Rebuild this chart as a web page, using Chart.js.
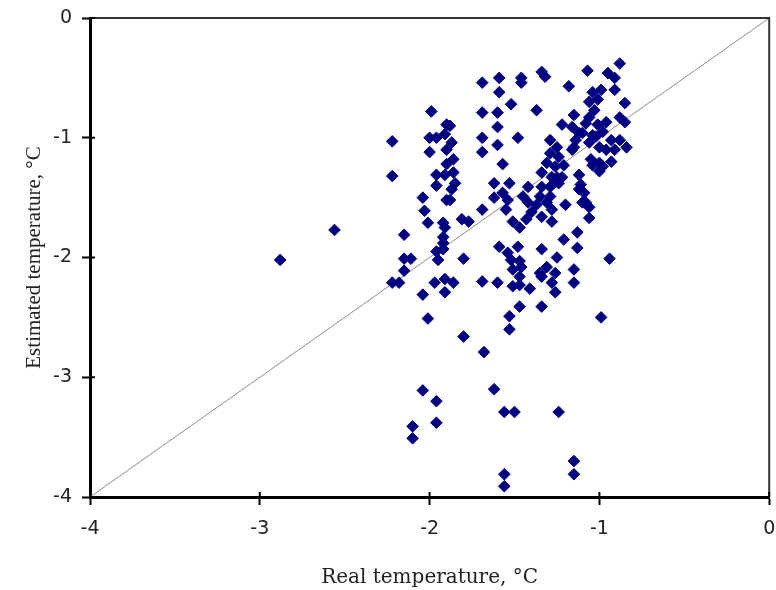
<!DOCTYPE html>
<html>
<head>
<meta charset="utf-8">
<script src="https://cdn.jsdelivr.net/npm/chart.js@4/dist/chart.umd.min.js"></script>
<style>
  html, body { margin:0; padding:0; background:#fff; }
  #wrap { width:776px; height:590px; }
</style>
</head>
<body>
<div id="wrap"><canvas id="chart" width="776" height="590"></canvas></div>
<script>
// scatter data: real vs estimated temperature (°C)
const realTemp = [
  -2.88,-2.56,-2.22,-2.22,-2.22,-2.18,-2.15,-2.15,-2.11,-2.15,-2.10,-2.10,-2.04,-2.03,-2.01,-2.04,-2.01,-2.04,-1.96,-1.96,
  -1.99,-2.00,-1.96,-1.91,-2.00,-1.90,-1.96,-1.91,-1.96,-1.90,-1.92,-1.92,-1.96,-1.95,-1.92,-1.97,-1.91,-1.90,
  -1.88,-1.87,-1.90,-1.86,-1.86,-1.85,-1.87,-1.88,-1.81,-1.77,-1.91,-1.92,-1.80,-1.86,-1.91,-1.80,
  -1.69,-1.69,-1.69,-1.69,-1.59,-1.59,-1.60,-1.60,-1.60,-1.57,-1.52,-1.69,-1.69,-1.60,-1.68,-1.62,-1.62,-1.57,-1.53,-1.62,
  -1.54,-1.55,-1.51,-1.47,-1.43,-1.40,-1.37,-1.59,-1.54,-1.52,-1.48,-1.47,-1.51,-1.46,-1.47,-1.47,-1.41,-1.51,-1.47,-1.53,
  -1.53,-1.56,-1.50,-1.56,-1.56,-1.46,-1.46,-1.48,-1.42,-1.42,-1.45,
  -1.34,-1.32,-1.37,-1.18,-1.22,-1.15,-1.29,-1.25,-1.29,-1.24,-1.31,-1.26,-1.21,-1.34,-1.28,-1.22,-1.29,-1.24,-1.16,-1.14,
  -1.16,-1.12,-1.34,-1.25,-1.29,-1.28,-1.34,-1.28,-1.20,-1.31,-1.35,-1.12,-1.11,-1.09,-1.10,-1.06,-1.06,-1.00,-1.21,-1.13,
  -1.13,-0.94,-1.25,-1.31,-1.26,-1.34,-1.28,-1.26,-1.15,-1.15,-1.34,-1.35,-1.34,-0.99,-1.24,-1.15,-1.15,
  -1.07,-0.95,-0.88,-0.91,-1.04,-0.99,-1.06,-1.01,-1.03,-0.91,-0.85,-0.88,-0.85,-1.06,-1.01,-0.96,-1.10,-1.04,-0.98,-0.93,
  -0.88,-0.91,-0.93,-1.05,-1.00,-1.15,-1.08,-1.02,-1.06,-1.00,-1.04,-0.98,-0.84,-0.96,-1.12,-1.08
];
const estTemp = [
  -2.02,-1.77,-1.03,-1.32,-2.21,-2.21,-1.81,-2.01,-2.01,-2.11,-3.41,-3.51,-1.50,-1.61,-1.71,-2.31,-2.51,-3.11,-3.20,-3.38,
  -0.78,-1.00,-1.00,-0.97,-1.12,-1.10,-1.31,-1.31,-1.40,-1.52,-1.71,-1.83,-1.95,-2.02,-1.88,-2.21,-2.29,-0.89,
  -0.90,-1.04,-1.22,-1.18,-1.29,-1.38,-1.43,-1.52,-1.68,-1.70,-1.75,-1.93,-2.01,-2.21,-2.18,-2.66,
  -0.54,-0.79,-1.00,-1.12,-0.50,-0.62,-0.79,-0.91,-1.06,-1.22,-0.72,-1.60,-2.20,-2.21,-2.79,-3.10,-1.38,-1.46,-1.38,-1.50,
  -1.52,-1.60,-1.70,-1.75,-1.68,-1.62,-1.56,-1.91,-1.96,-2.02,-1.91,-2.03,-2.10,-2.08,-2.16,-2.23,-2.26,-2.24,-2.41,-2.49,
  -2.60,-3.29,-3.29,-3.81,-3.91,-0.50,-0.54,-1.00,-1.41,-1.54,-1.49,
  -0.45,-0.49,-0.77,-0.57,-0.89,-0.81,-1.02,-1.08,-1.13,-1.16,-1.21,-1.24,-1.23,-1.29,-1.33,-1.33,-1.41,-1.38,-1.10,-1.02,
  -0.91,-0.96,-1.41,-1.33,-1.49,-1.60,-1.66,-1.70,-1.56,-1.54,-1.49,-1.31,-1.39,-1.46,-1.54,-1.58,-1.67,-1.28,-1.85,-1.79,
  -1.92,-2.01,-2.00,-2.08,-2.13,-2.16,-2.21,-2.29,-2.10,-2.21,-1.93,-2.13,-2.41,-2.50,-3.29,-3.70,-3.81,
  -0.44,-0.46,-0.38,-0.50,-0.62,-0.60,-0.70,-0.68,-0.77,-0.60,-0.71,-0.83,-0.87,-0.83,-0.89,-0.87,-0.96,-0.98,-0.95,-1.02,
  -1.02,-1.10,-1.20,-1.18,-1.21,-1.08,-0.88,-0.99,-1.04,-1.08,-1.23,-1.24,-1.08,-1.10,-1.43,-1.54
];

// 1:1 reference line
const lineX = [-4, 0];
const lineY = [-4, 0];

// axis ticks
const tickValues = [-4, -3, -2, -1, 0];

const xTitle = "Real temperature, °C";
const yTitle = "Estimated temperature, °C";

const points = realTemp.map((x, i) => ({ x, y: estTemp[i] }));
const diag = lineX.map((x, i) => ({ x, y: lineY[i] }));

// frame on top/right + ticks crossing into the plot
const framePlugin = {
  id: "frame",
  afterDraw(chart){
    const { ctx, chartArea: a, scales } = chart;
    ctx.save();
    ctx.strokeStyle = "#333";
    ctx.lineWidth = 2;
    ctx.beginPath();
    ctx.moveTo(a.left, a.top);
    ctx.lineTo(a.right, a.top);
    ctx.lineTo(a.right, a.bottom);
    ctx.stroke();
    ctx.strokeStyle = "#000";
    ctx.beginPath();
    tickValues.forEach(v => {
      const px = scales.x.getPixelForValue(v);
      ctx.moveTo(px, a.bottom); ctx.lineTo(px, a.bottom - 5);
      const py = scales.y.getPixelForValue(v);
      ctx.moveTo(a.left, py); ctx.lineTo(a.left + 5, py);
    });
    ctx.stroke();
    ctx.restore();
  }
};

const tickFont = { family: "DejaVu Sans, sans-serif", size: 19 };

new Chart(document.getElementById("chart").getContext("2d"), {
  data: {
    datasets: [
      {
        type: "scatter",
        data: points,
        pointStyle: "rectRot",
        pointRadius: 5.8,
        pointBackgroundColor: "#000080",
        pointBorderColor: "#000080",
        pointBorderWidth: 1,
        order: 1
      },
      {
        type: "line",
        data: diag,
        borderColor: "#8c8c8c",
        borderWidth: 1,
        pointRadius: 0,
        order: 2
      }
    ]
  },
  options: {
    responsive: false,
    animation: false,
    layout: { padding: { top: 18, right: 6, left: 0, bottom: 0 } },
    plugins: { legend: { display: false }, tooltip: { enabled: false } },
    scales: {
      x: {
        type: "linear",
        min: -4, max: 0,
        afterBuildTicks: s => { s.ticks = tickValues.map(v => ({ value: v })); },
        afterFit: s => { s.height = 93; s.paddingLeft = 0; s.paddingRight = 0; },
        grid: { drawOnChartArea: false, tickLength: 8, tickColor: "#000", tickWidth: 2 },
        border: { color: "#000", width: 3 },
        ticks: { color: "#222", font: tickFont, padding: 13, maxRotation: 0 },
        title: { display: true, text: xTitle, color: "#222",
                 font: { family: "DejaVu Serif, serif", size: 20 }, padding: { top: 0, bottom: 0 } }
      },
      y: {
        type: "linear",
        min: -4, max: 0,
        afterBuildTicks: s => { s.ticks = tickValues.map(v => ({ value: v })); },
        afterFit: s => { s.width = 90; s.paddingTop = 0; s.paddingBottom = 0; },
        grid: { drawOnChartArea: false, tickLength: 8, tickColor: "#000", tickWidth: 2 },
        border: { color: "#000", width: 3 },
        ticks: { color: "#222", font: tickFont, padding: 10 },
        title: { display: true, text: yTitle, color: "#222",
                 font: { family: "Liberation Serif, Times New Roman, serif", size: 21 }, padding: { top: 22, bottom: 0 } }
      }
    }
  },
  plugins: [framePlugin]
});
</script>
</body>
</html>
